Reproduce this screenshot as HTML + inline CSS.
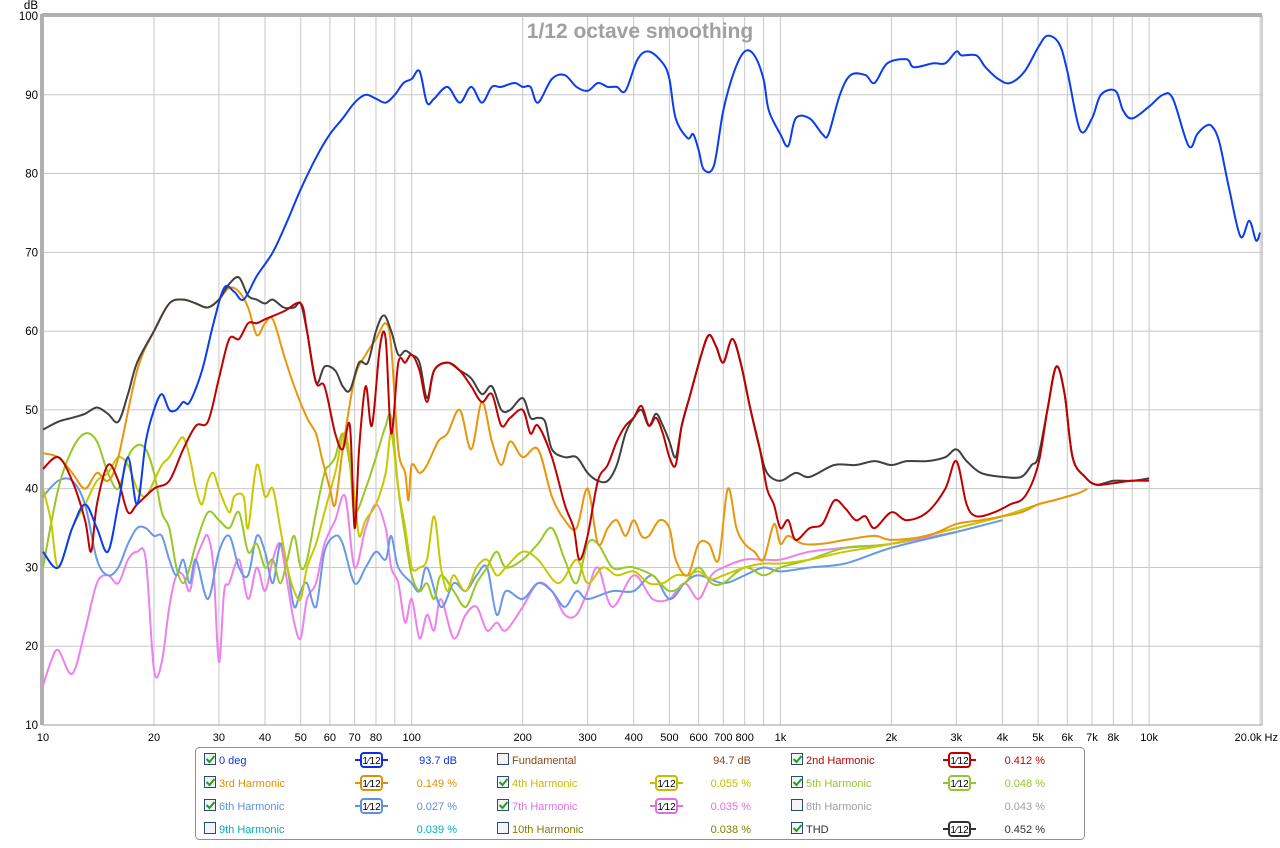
<!DOCTYPE html>
<html><head><meta charset="utf-8"><style>
body{margin:0;background:#fff;font-family:"Liberation Sans",sans-serif;}
svg text{font-family:"Liberation Sans",sans-serif;}
</style></head><body>
<svg id="chart" width="1280" height="843" xmlns="http://www.w3.org/2000/svg">
<rect x="0" y="0" width="1280" height="843" fill="#fff"/>
<g id="grid"></g>
<g id="axes"></g>
<g id="series"></g>
<text x="640" y="38" text-anchor="middle" font-size="21" font-weight="bold" fill="#a0a0a0">1/12 octave smoothing</text>
<g id="legend"></g>
</svg>
<script>
const NS="http://www.w3.org/2000/svg";
const xTicks=[10,20,30,40,50,60,70,80,100,200,300,400,500,600,700,800,1000,2000,3000,4000,5000,6000,7000,8000,10000,20000];
const xTickLabels=["10","20","30","40","50","60","70","80","100","200","300","400","500","600","700","800","1k","2k","3k","4k","5k","6k","7k","8k","10k","20.0k Hz"];
const yTicks=[10,20,30,40,50,60,70,80,90,100];
const blueData=[[10,32],[11,30],[12,35],[13,38],[14,35],[15,32],[16,38],[17,44],[18,38],[19,46],[20,50],[21,52],[22,50],[23,50],[24,51],[25,51],[27,55],[29,61],[31,65.5],[33,65],[35,64],[38,67],[42,70],[46,74],[50,78],[55,82],[60,85],[65,87],[70,89],[75,90],[80,89.5],[85,89],[90,90],[95,91.5],[100,92],[105,93],[110,89],[115,89.5],[125,91],[135,89],[145,91],[155,89],[165,91],[175,91],[190,91.5],[200,91],[210,91],[220,89],[240,92],[260,92.5],[280,91],[300,90.5],[320,91.5],[340,91],[360,91],[380,90.5],[410,94.5],[440,95.5],[480,94],[500,92],[520,87],[560,84.5],[580,85],[600,83],[620,80.5],[660,81],[700,88],[750,93],[800,95.5],[850,95],[900,92],[930,88],[1000,85],[1050,83.5],[1100,87],[1200,87],[1300,85],[1350,85],[1450,90],[1550,92.5],[1700,92.5],[1800,91.5],[1950,94],[2200,94.5],[2300,93.5],[2600,94],[2800,94],[3000,95.5],[3100,95],[3400,95],[3600,93.5],[3900,92],[4200,91.5],[4600,93],[5000,96],[5300,97.5],[5700,96.5],[6000,93],[6500,85.5],[7000,87],[7400,90],[8100,90.5],[8500,88],[9000,87],[10000,88.5],[10900,90],[11600,89.5],[12800,83.5],[13500,85],[14200,86],[14800,86],[15500,84],[16500,78],[17700,72],[18700,74],[19500,71.5],[20000,72.5]];
const thdData=[[10,47.5],[11,48.5],[12,49],[13,49.5],[14,50.3],[15,49.5],[16,48.5],[17,52],[18,56],[20,60],[22,63.5],[24,64],[26,63.5],[28,63],[30,64],[32,66],[34,66.8],[36,64.5],[38,64],[40,63.5],[42,64],[45,63],[48,63],[50,63.5],[52,60],[55,53.5],[58,55.5],[62,55],[65,53],[68,52.5],[72,56],[76,56],[80,60],[84,62],[88,60],[92,57],[96,57.5],[100,57],[105,56],[110,51.5],[115,55],[125,56],[135,55],[145,54],[155,52],[165,53],[175,50],[185,50],[200,51.5],[210,49],[220,49],[230,48.5],[240,45],[260,44],[280,44],[300,42],[320,41],[340,41],[360,43],[380,47],[400,49],[420,50],[440,48],[460,49.5],[480,48],[500,46],[520,44],[540,48],[570,52],[610,57],[640,59.5],[670,58],[700,56],[740,59],[780,56],[830,50],[880,45],[920,42],[1000,41],[1100,42],[1200,41.5],[1400,43],[1600,43],[1800,43.5],[2000,43],[2200,43.5],[2500,43.5],[2800,44],[3000,45],[3200,43.5],[3500,42],[4000,41.5],[4500,41.5],[4800,43],[5000,44],[5300,50],[5600,55.5],[5900,52],[6200,44],[6700,41.5],[7200,40.5],[8000,41],[9000,41],[10000,41.3]];
const h2Data=[[10,42.5],[11,44],[12,41],[13,36],[13.5,32],[14,38],[15,43],[16,41],[17,37],[18,38],[20,40],[22,41],[24,45],[26,48],[28,48.5],[30,54],[32,59],[34,59],[36,61],[38,61],[40,61.5],[45,62.5],[50,63.5],[52,60],[55,53.5],[58,53],[62,47],[65,45],[68,48],[70,35],[72,45],[75,53],[78,48],[82,58],[85,59],[88,47],[92,56],[96,56],[100,57],[105,55],[110,51],[115,55],[125,56],[135,55],[145,53],[155,51],[165,52],[175,48],[185,49],[200,50],[210,47],[220,48],[240,44],[260,38],[275,35],[285,31],[300,34],[320,41],[340,43],[360,46],[380,48],[400,49],[420,50.5],[440,48],[460,49],[480,47],[500,44],[520,43],[540,48],[570,52],[610,57],[640,59.5],[670,58],[700,56],[740,59],[780,56],[830,50],[880,45],[920,40],[960,38],[1000,35],[1050,36],[1100,33.5],[1200,35],[1300,35.5],[1400,38.5],[1500,37.5],[1600,36],[1700,36.5],[1800,35],[2000,37],[2200,36],[2500,37],[2800,40],[3000,43.5],[3200,38],[3400,36.5],[3800,37],[4200,38],[4600,39],[5000,43],[5300,50],[5600,55.5],[5900,52],[6200,44],[6700,41.5],[7200,40.5],[8000,40.7],[9000,41],[10000,41]];
const h3Data=[[10,44.5],[11,44],[12,42],[13,40],[14,42],[15,41],[16,44],[18,55],[20,60],[22,63.5],[24,64],[26,63.5],[28,63],[30,64],[32,65.5],[34,65],[36,63],[38,59.5],[40,61],[42,61.5],[45,57],[48,53],[52,49],[55,47],[57,44],[60,40],[62,38],[65,45],[70,54],[75,57],[80,59],[85,61],[88,58],[92,45],[96,42],[98,38.5],[100,43],[105,42],[110,43],[118,46],[125,47],[135,50],[145,45],[155,51],[165,46],[175,43],[185,46],[200,44],[220,45],[240,39],[260,36],[280,35],[300,40],[320,33],[340,35],[360,36],[380,34],[400,36],[420,34],[440,34],[470,36],[500,35],[520,31],[560,29],[600,33],[640,33],[680,31],[720,40],[760,35],[800,33],[850,32],[900,31],[960,35.5],[1000,33],[1050,34],[1150,33],[1300,33],[1500,33.5],[1800,34],[2000,33.5],[2500,34],[3000,35.5],[3500,36],[4000,36.5],[4500,37],[5000,38],[5500,38.5],[6000,39],[6500,39.5],[6800,40]];
const h4Data=[[10,40],[10.5,36],[11,30],[12,35],[13,38],[14,41],[15,42],[16,44],[17,43],[18,40],[19,39],[20,41],[21,43],[22,44],[23,45.5],[24,46.5],[25,44],[26,40],[27,38],[28,41],[29,42],[30,40],[32,37],[33,39],[35,39],[36,35],[38,43],[40,39],[42,40],[44,35],[46,30],[48,27],[50,26],[52,30],[55,33],[58,37],[62,42],[66,47],[70,39],[72,34],[75,36],[80,38],[85,42],[88,47],[92,40],[96,35],[100,30],[105,30],[110,31],[115,36.5],[120,30],[125,27],[130,29],[140,27],[150,30],[160,31],[170,29],[180,30],[200,32],[220,31],[250,28],[280,31],[300,28],[330,30],[360,29],[400,29.5],[440,28],[480,28],[520,29],[560,29],[600,29.5],[650,28.5],[700,29],[800,30],[900,30.5],[1000,30.5],[1200,31],[1500,32],[2000,33],[3000,35],[4000,36.5],[5000,38],[6000,39]];
const h5Data=[[10,30],[11,40],[12,45],[13,47],[14,46],[15,42],[16,40],[17,44],[18,45.5],[19,45],[20,42],[21,37],[22,35],[23,30],[24,28],[25,30],[26,33],[28,37],[30,36],[32,35],[34,37],[36,32],[38,33],[40,30],[42,31],[44,28],[46,31],[48,34],[50,30],[52,31],[55,37],[58,42],[60,43],[62,44],[65,47],[68,43],[70,37],[75,40],[80,44],[85,48],[88,49],[92,40],[96,34],[100,29],[105,27],[110,28],[115,26],[120,29],[130,27],[140,25],[150,28],[160,30],[170,32],[180,30],[200,31],[220,33],[240,35],[260,31],[280,28],[300,33],[320,33],[350,30],[380,30],[400,30],[450,29],[500,27],[550,28],[600,30],[650,28],[700,28],[800,30],[900,29],[1000,30],[1200,31],[1500,32.5],[2000,33],[3000,35],[4000,36.5],[5000,38]];
const h6Data=[[10,39],[11,41],[12,41],[13,38],[14,31],[15,29],[16,30],[17,33],[18,35],[19,35],[20,34],[21,34],[22,31],[23,29],[24,31],[25,28],[26,31],[28,26],[30,32],[32,34],[34,30],[36,29],[38,34],[40,32],[42,28],[44,33],[46,30],[48,25],[50,27],[52,28],[55,25],[58,32],[62,34],[65,33],[70,28],[75,30],[80,32],[85,31],[88,34],[92,30],[100,28],[105,27],[110,30],[120,25],[130,28],[140,27],[150,29],[160,30],[170,24],[180,27],[200,26],[220,28],[240,27],[260,25],[280,27],[300,26],[350,27],[400,27],[450,29],[500,26],[550,28],[600,29],[700,28],[800,29],[900,30],[1000,29.5],[1200,30],[1500,30.5],[2000,32.5],[3000,34.5],[4000,36]];
const h7Data=[[10,15],[10.5,18],[11,19.5],[12,16.5],[13,22],[14,28],[15,29],[16,28],[17,31],[18,32],[19,31],[20,17],[21,18],[22,25],[23,29],[24,29],[25,27],[26,31],[27,33],[28,34],[29,30],[30,18],[31,27],[32,28],[34,31],[36,26],[38,30],[40,27],[42,31],[44,33],[46,28],[48,23],[50,21],[52,26],[55,28],[58,33],[62,36],[66,39],[70,30],[75,35],[80,38],[85,35],[88,30],[92,28],[96,23],[100,26],[105,21],[110,24],[115,22],[120,26],[130,21],[140,24],[150,25],[160,22],[170,23],[180,22],[200,25],[220,28],[240,27],[260,24],[280,24],[300,27],[320,30],[350,25],[400,29],[450,26],[500,26],[550,28],[600,26],[650,29],[700,30],[800,31],[900,31],[1000,31],[1200,32],[1500,32.5],[2000,33],[3000,34.5]];

const X0=43,PXD=368.7,Y100=16,PXDB=7.878;
function xs(f){return X0+PXD*Math.log10(f/10);}
function ys(d){return Y100+(100-d)*PXDB;}
function mk(tag,attrs,parent){const e=document.createElementNS(NS,tag);for(const k in attrs)e.setAttribute(k,attrs[k]);parent.appendChild(e);return e;}
const grid=document.getElementById('grid'),axes=document.getElementById('axes'),ser=document.getElementById('series');
for(let dec=10;dec<=10000;dec*=10){for(let m=1;m<10;m++){const f=dec*m;if(f>20000)continue;const gl=mk('line',{x1:xs(f),x2:xs(f),y1:Y100,y2:ys(10),stroke:'#c8c8c8','stroke-width':1},grid);

}}
yTicks.forEach(v=>{const gl=mk('line',{x1:X0,x2:1262,y1:ys(v),y2:ys(v),stroke:'#c8c8c8','stroke-width':1},grid);


const t=mk('text',{x:38,y:ys(v)+4,'text-anchor':'end','font-size':11.5,fill:'#000'},axes);t.textContent=String(v);

});
const fr=mk('rect',{x:X0,y:Y100,width:1262-X0,height:ys(10)-Y100,fill:'none',stroke:'#a0a0a0','stroke-width':1},axes);


mk('line',{x1:X0-1,x2:1262,y1:Y100-1,y2:Y100-1,stroke:'#b0b0b0','stroke-width':4},axes);
mk('line',{x1:X0-1,x2:X0-1,y1:Y100-2,y2:ys(10),stroke:'#b0b0b0','stroke-width':4},axes);
const dbl=mk('text',{x:38,y:9,'text-anchor':'end','font-size':11.5},axes);dbl.textContent='dB';


xTicks.forEach((f,i)=>{const last=i===xTicks.length-1;const t=mk('text',{x:last?1278:xs(f),y:741,'text-anchor':last?'end':'middle','font-size':11},axes);t.textContent=xTickLabels[i];

});
function path(data){const p=data.map(d=>[xs(d[0]),ys(d[1])]);let s='M'+p[0][0].toFixed(1)+','+p[0][1].toFixed(1);
for(let i=0;i<p.length-1;i++){const p0=p[Math.max(0,i-1)],p1=p[i],p2=p[i+1],p3=p[Math.min(p.length-1,i+2)];
const c1=[p1[0]+(p2[0]-p0[0])/6,p1[1]+(p2[1]-p0[1])/6],c2=[p2[0]-(p3[0]-p1[0])/6,p2[1]-(p3[1]-p1[1])/6];
s+='C'+c1[0].toFixed(1)+','+c1[1].toFixed(1)+' '+c2[0].toFixed(1)+','+c2[1].toFixed(1)+' '+p2[0].toFixed(1)+','+p2[1].toFixed(1);}return s;}
const seriesList=[[h7Data,'#ee80ee','series-7th-harmonic'],[h6Data,'#6898e8','series-6th-harmonic'],[h5Data,'#98c828','series-5th-harmonic'],[h4Data,'#c8c800','series-4th-harmonic'],[h3Data,'#e8960a','series-3rd-harmonic'],[thdData,'#404040','series-thd'],[h2Data,'#c00000','series-2nd-harmonic'],[blueData,'#0a3cf0','series-0-deg']];
seriesList.forEach(s=>{const e=mk('path',{d:path(s[0]),fill:'none',stroke:s[1],'stroke-width':2,'stroke-linejoin':'round'},ser);

});
const lg=document.getElementById('legend');
const lb=mk('rect',{x:195.5,y:747.5,width:889,height:92,rx:4,fill:'#fff',stroke:'#909090'},lg);


const entries=[
['0 deg','#1030e0',true,true,'93.7 dB'],['Fundamental','#8b4513',false,false,'94.7 dB'],['2nd Harmonic','#c00000',true,true,'0.412 %'],
['3rd Harmonic','#e09000',true,true,'0.149 %'],['4th Harmonic','#c0c000',true,true,'0.055 %'],['5th Harmonic','#90c830',true,true,'0.048 %'],
['6th Harmonic','#6090e0',true,true,'0.027 %'],['7th Harmonic','#e070e0',true,true,'0.035 %'],['8th Harmonic','#a0a0a0',false,false,'0.043 %'],
['9th Harmonic','#00b0b8',false,false,'0.039 %'],['10th Harmonic','#808000',false,false,'0.038 %'],['THD','#303030',true,true,'0.452 %']];
const colX=[204,497,791],iconX=[355,650,943],valX=[457,751,1045];
entries.forEach((e,i)=>{const c=i%3,r=Math.floor(i/3),cy=760+r*23;
const g=mk('g',{},lg);


mk('rect',{x:colX[c]+0.5,y:cy-6.5,width:11,height:11,fill:'#f4f4f4',stroke:'#2a4a7a'},g);
if(e[2]){mk('path',{d:`M${colX[c]+2.5},${cy-1} l3,3 l5,-6`,fill:'none',stroke:'#20a020','stroke-width':2},g);}
const t=mk('text',{x:colX[c]+15,y:cy+4,'font-size':11,fill:e[1]},g);t.textContent=e[0];
if(e[3]){const ix=iconX[c];mk('line',{x1:ix,x2:ix+33,y1:cy,y2:cy,stroke:e[1],'stroke-width':2},g);
mk('rect',{x:ix+6,y:cy-7,width:21,height:14,rx:3,fill:'#fff',stroke:e[1],'stroke-width':2},g);
const ft=mk('text',{x:ix+16.5,y:cy+4,'text-anchor':'middle','font-size':10,fill:'#000'},g);ft.textContent='1⁄12';}
const v=mk('text',{x:valX[c],y:cy+4,'text-anchor':'end','font-size':11,fill:e[1]},g);v.textContent=e[4];});
</script>
</body></html>
